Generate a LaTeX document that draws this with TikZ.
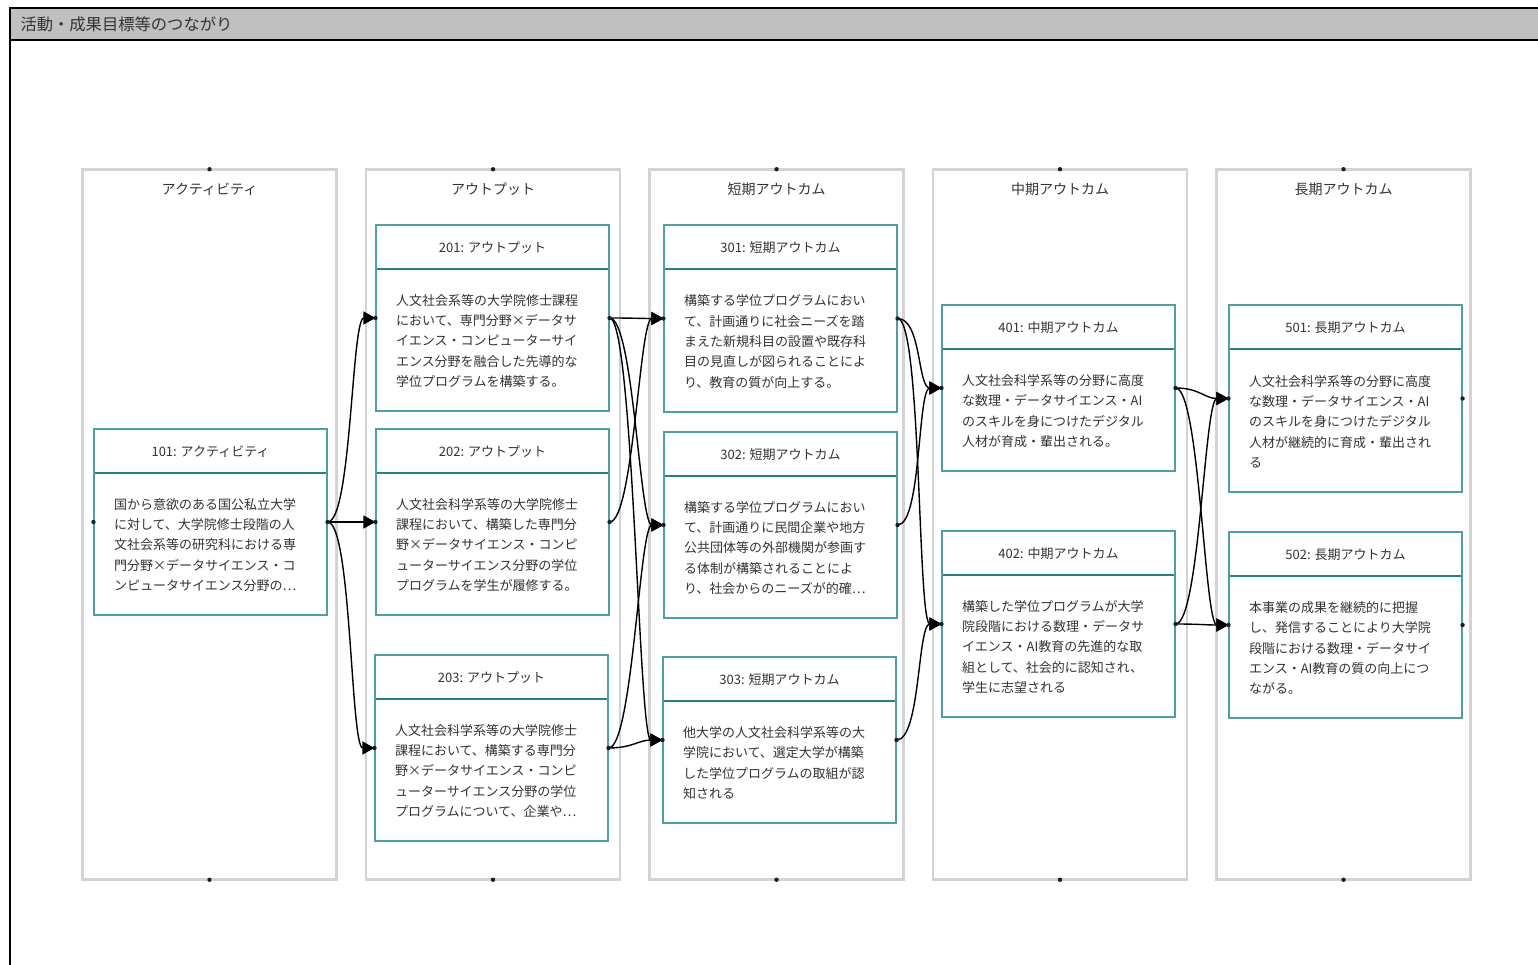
\documentclass[tikz,border=0pt]{standalone}
\usepackage{fontspec}
\newfontfamily\jpfont{Noto Sans CJK JP}
\usepackage{tikz}
\usetikzlibrary{arrows.meta,positioning,calc}
\usepackage{xcolor}
\definecolor{laneGray}{HTML}{D3D3D3}
\definecolor{barGray}{HTML}{C0C0C0}
\definecolor{cardTeal}{HTML}{4E9EA4}
\definecolor{headTeal}{HTML}{2B7F86}
\definecolor{textGray}{HTML}{333333}
\definecolor{portDot}{HTML}{1C1C30}
\tikzset{
  lane/.style = {draw=laneGray, line width=2.5pt, minimum width=254pt, minimum height=710pt, inner sep=0pt},
  laneTitle/.style = {font=\jpfont\fontsize{14}{16}\selectfont, text=textGray},% titre de colonne
  card/.style = {draw=cardTeal, line width=1.1pt, fill=white, minimum width=233pt, inner sep=0pt,
    path picture={\draw[headTeal, line width=1.1pt] ([yshift=-44pt]path picture bounding box.north west) -- ([yshift=-44pt]path picture bounding box.north east);}},
  cardHead/.style = {font=\jpfont\fontsize{13}{15}\selectfont, text=textGray},
  cardBody/.style = {font=\jpfont\fontsize{13}{20.3}\selectfont, text=textGray, text width=193pt, align=left, inner sep=0pt},
  link/.style = {draw=black, line width=1.4pt, -{Triangle[length=12pt,width=13pt]},
    to path={.. controls +(24,0) and +(-24,0) .. (\tikztotarget)}},
}

\begin{document}
\begin{tikzpicture}[x=1pt, y=-1pt, node distance=27pt]
\useasboundingbox (0,0) rectangle (1538,965);
% bandeau du titre
\fill[barGray] (10,8) rectangle (1538,40);
\draw[line width=2pt] (1538,8) -- (10,8) -- (10,965);
\draw[line width=2pt] (10,40) -- (1538,40);
\node[anchor=west, font=\jpfont\fontsize{16.3}{18}\selectfont, text=textGray] (title) at (17,24) {活動・成果目標等のつながり};

% colonnes
\node[lane] (lane1) at (209.5,524.5) {};
\node[lane, right=of lane1] (lane2) {};
\node[lane, right=of lane2] (lane3) {};
\node[lane, right=of lane3] (lane4) {};
\node[lane, right=of lane4] (lane5) {};
\node[laneTitle] (t1) at ([yshift=-21pt]lane1.north) {アクティビティ};
\node[laneTitle] (t2) at ([yshift=-21pt]lane2.north) {アウトプット};
\node[laneTitle] (t3) at ([yshift=-21pt]lane3.north) {短期アウトカム};
\node[laneTitle] (t4) at ([yshift=-21pt]lane4.north) {中期アウトカム};
\node[laneTitle] (t5) at ([yshift=-21pt]lane5.north) {長期アウトカム};

% activite
\node[card, minimum height=186pt] (c101) at (210.5,522) {};
\node[cardHead] (h101) at ([yshift=-23pt]c101.north) {101: アクティビティ};
\node[cardBody] (b101) at ([yshift=-23pt]c101.center) {国から意欲のある国公私立大学\\に対して、大学院修士段階の人\\文社会系等の研究科における専\\門分野×データサイエンス・コ\\ンピュータサイエンス分野の⋯};

% outputs
\node[card, minimum height=186pt] (c201) at (492.5,318) {};
\node[cardHead] (h201) at ([yshift=-23pt]c201.north) {201: アウトプット};
\node[cardBody] (b201) at ([yshift=-23pt]c201.center) {人文社会系等の大学院修士課程\\において、専門分野×データサ\\イエンス・コンピューターサイ\\エンス分野を融合した先導的な\\学位プログラムを構築する。};
\node[card, minimum height=186pt] (c202) at (492.5,522) {};
\node[cardHead] (h202) at ([yshift=-23pt]c202.north) {202: アウトプット};
\node[cardBody] (b202) at ([yshift=-23pt]c202.center) {人文社会科学系等の大学院修士\\課程において、構築した専門分\\野×データサイエンス・コンピ\\ューターサイエンス分野の学位\\プログラムを学生が履修する。};
\node[card, minimum height=186pt] (c203) at (491.5,748) {};
\node[cardHead] (h203) at ([yshift=-23pt]c203.north) {203: アウトプット};
\node[cardBody] (b203) at ([yshift=-23pt]c203.center) {人文社会科学系等の大学院修士\\課程において、構築する専門分\\野×データサイエンス・コンピ\\ューターサイエンス分野の学位\\プログラムについて、企業や⋯};

% court terme
\node[card, minimum height=187pt] (c301) at (780.5,318.5) {};
\node[cardHead] (h301) at ([yshift=-23pt]c301.north) {301: 短期アウトカム};
\node[cardBody] (b301) at ([yshift=-23pt]c301.center) {構築する学位プログラムにおい\\て、計画通りに社会ニーズを踏\\まえた新規科目の設置や既存科\\目の見直しが図られることによ\\り、教育の質が向上する。};
\node[card, minimum height=186pt] (c302) at (780.5,525) {};
\node[cardHead] (h302) at ([yshift=-23pt]c302.north) {302: 短期アウトカム};
\node[cardBody] (b302) at ([yshift=-23pt]c302.center) {構築する学位プログラムにおい\\て、計画通りに民間企業や地方\\公共団体等の外部機関が参画す\\る体制が構築されることによ\\り、社会からのニーズが的確⋯};
\node[card, minimum height=166pt] (c303) at (779.5,740) {};
\node[cardHead] (h303) at ([yshift=-23pt]c303.north) {303: 短期アウトカム};
\node[cardBody] (b303) at ([yshift=-23pt]c303.center) {他大学の人文社会科学系等の大\\学院において、選定大学が構築\\した学位プログラムの取組が認\\知される};

% moyen terme
\node[card, minimum height=166pt] (c401) at (1058.5,388) {};
\node[cardHead] (h401) at ([yshift=-23pt]c401.north) {401: 中期アウトカム};
\node[cardBody] (b401) at ([yshift=-23pt]c401.center) {人文社会科学系等の分野に高度\\な数理・データサイエンス・AI\\のスキルを身につけたデジタル\\人材が育成・輩出される。};
\node[card, minimum height=186pt] (c402) at (1058.5,624) {};
\node[cardHead] (h402) at ([yshift=-23pt]c402.north) {402: 中期アウトカム};
\node[cardBody] (b402) at ([yshift=-23pt]c402.center) {構築した学位プログラムが大学\\院段階における数理・データサ\\イエンス・AI教育の先進的な取\\組として、社会的に認知され、\\学生に志望される};

% long terme
\node[card, minimum height=187pt] (c501) at (1345.5,398.5) {};
\node[cardHead] (h501) at ([yshift=-23pt]c501.north) {501: 長期アウトカム};
\node[cardBody] (b501) at ([yshift=-23pt]c501.center) {人文社会科学系等の分野に高度\\な数理・データサイエンス・AI\\のスキルを身につけたデジタル\\人材が継続的に育成・輩出され\\る};
\node[card, minimum height=186pt] (c502) at (1345.5,625) {};
\node[cardHead] (h502) at ([yshift=-23pt]c502.north) {502: 長期アウトカム};
\node[cardBody] (b502) at ([yshift=-23pt]c502.center) {本事業の成果を継続的に把握\\し、発信することにより大学院\\段階における数理・データサイ\\エンス・AI教育の質の向上につ\\ながる。};

% liens
\draw[link] (c101.east) to (c201.west);
\draw[link] (c101.east) to (c202.west);
\draw[link] (c101.east) to (c203.west);
\draw[link] (c201.east) to (c301.west);
\draw[link] (c201.east) to (c302.west);
\draw[link] (c201.east) to (c303.west);
\draw[link] (c202.east) to (c301.west);
\draw[link] (c203.east) to (c302.west);
\draw[link] (c203.east) to (c303.west);
\draw[link] (c301.east) to (c401.west);
\draw[link] (c301.east) to (c402.west);
\draw[link] (c302.east) to (c401.west);
\draw[link] (c303.east) to (c402.west);
\draw[link] (c401.east) to (c501.west);
\draw[link] (c401.east) to (c502.west);
\draw[link] (c402.east) to (c501.west);
\draw[link] (c402.east) to (c502.west);

% points d'ancrage
\foreach \c in {c101,c201,c202,c203,c301,c302,c303,c401,c402,c501,c502}
  \fill[portDot] (\c.west) circle (2.2pt) (\c.east) circle (2.2pt);
\foreach \l in {lane1,lane2,lane3,lane4,lane5}
  \fill[portDot] ([yshift=-1pt]\l.north) circle (2.2pt) ([yshift=1pt]\l.south) circle (2.2pt);
\end{tikzpicture}
\end{document}
